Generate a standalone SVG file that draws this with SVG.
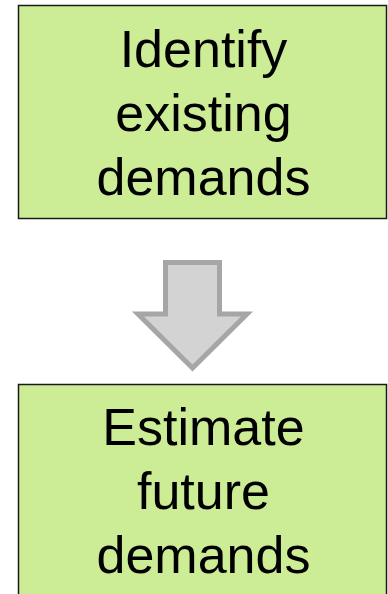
<svg xmlns="http://www.w3.org/2000/svg" width="388" height="594" viewBox="0 0 388 594">
<style>
.box{fill:#cdec96;stroke:#1a1a1a;stroke-width:1.5}
.lbl{font-family:"Liberation Sans",Arial,sans-serif;font-size:52px;fill:#000;text-anchor:middle}
.arrow{fill:#d3d3d3;stroke:#a6a6a6;stroke-width:5;stroke-linejoin:miter}
</style>
<rect width="388" height="594" fill="#fff"/>
<g id="node-identify">
<rect class="box" x="18.5" y="5.5" width="368" height="213"/>
<text class="lbl" x="203.5" y="67">Identify</text>
<text class="lbl" x="203.5" y="131">existing</text>
<text class="lbl" x="203.5" y="195">demands</text>
</g>
<g id="connectors">
<polygon class="arrow" points="165.5,262.5 219.5,262.5 219.5,314 247,314 192.5,368 138,314 165.5,314"/>
</g>
<g id="node-estimate">
<rect class="box" x="18.5" y="384.5" width="368" height="220"/>
<text class="lbl" x="203.5" y="445">Estimate</text>
<text class="lbl" x="203.5" y="509">future</text>
<text class="lbl" x="203.5" y="573">demands</text>
</g>
</svg>
